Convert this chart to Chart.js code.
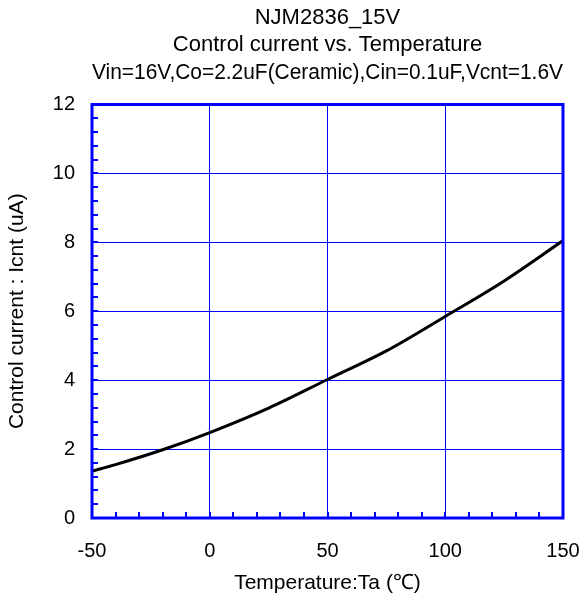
<!DOCTYPE html>
<html>
<head>
<meta charset="utf-8">
<script src="https://cdn.jsdelivr.net/npm/chart.js@4.4.1/dist/chart.umd.min.js"></script>
<style>
  html, body { margin: 0; padding: 0; background: #fff; }
  #wrap { width: 582px; height: 598px; }
</style>
</head>
<body>
<div id="wrap"><canvas id="ctrlChart" width="582" height="598"></canvas></div>
<script>
const titleLines = [
  'NJM2836_15V',
  'Control current vs. Temperature',
  'Vin=16V,Co=2.2uF(Ceramic),Cin=0.1uF,Vcnt=1.6V'
];
const xLabel = 'Temperature:Ta (\u2103)';
const yLabel = 'Control current : Icnt (uA)';

// temperature (C) and control current (uA)
const temps = [-50, -40, -20, 0, 25, 50, 75, 100, 125, 150];
const icnt = [1.36, 1.55, 1.98, 2.48, 3.19, 4.02, 4.85, 5.85, 6.88, 8.05];

const xMin = -50, xMax = 150, xStep = 50, xMinor = 10;
const yMin = 0, yMax = 12, yStep = 2, yMinor = 0.4;

const BLUE = 'rgb(0,0,255)';
const FONT = 'Arial, "Liberation Sans", sans-serif';

// frame + inward minor ticks, drawn from the scales
const framePlugin = {
  id: 'frame',
  afterDatasetsDraw(chart) {
    const { ctx, chartArea: a, scales } = chart;
    ctx.save();
    ctx.strokeStyle = BLUE;
    ctx.lineWidth = 2;
    for (let v = xMin + xMinor; v < xMax; v += xMinor) {
      const px = Math.round(scales.x.getPixelForValue(v));
      ctx.beginPath();
      ctx.moveTo(px, a.bottom);
      ctx.lineTo(px, a.bottom - 6);
      ctx.stroke();
    }
    for (let i = 1; i < Math.round((yMax - yMin) / yMinor); i++) {
      const py = Math.round(scales.y.getPixelForValue(yMin + i * yMinor));
      ctx.beginPath();
      ctx.moveTo(a.left, py);
      ctx.lineTo(a.left + 6, py);
      ctx.stroke();
    }
    ctx.lineWidth = 3;
    ctx.strokeRect(a.left, a.top, a.right - a.left, a.bottom - a.top);
    ctx.restore();
  }
};

new Chart(document.getElementById('ctrlChart'), {
  type: 'scatter',
  data: {
    datasets: [{
      data: temps.map((t, i) => ({ x: t, y: icnt[i] })),
      showLine: true,
      borderColor: '#000',
      borderWidth: 3,
      pointRadius: 0,
      cubicInterpolationMode: 'monotone'
    }]
  },
  options: {
    responsive: false,
    animation: false,
    layout: { padding: { left: 0, right: 19, top: 0, bottom: 0 } },
    plugins: {
      legend: { display: false },
      tooltip: { enabled: false },
      title: {
        display: true,
        fullSize: false,
        text: titleLines,
        color: '#000',
        font: { family: FONT, size: 22, weight: 'normal', lineHeight: 1.25 },
        padding: { top: 4, bottom: 18 }
      }
    },
    scales: {
      x: {
        type: 'linear',
        min: xMin, max: xMax,
        afterFit(s) { s.height = 80; s.paddingLeft = 0; s.paddingRight = 0; },
        grid: { color: BLUE, lineWidth: 1, drawTicks: false },
        border: { display: false },
        ticks: { stepSize: xStep, color: '#000', padding: 21, maxRotation: 0, font: { family: FONT, size: 20 } },
        title: { display: true, text: xLabel, color: '#000', padding: { top: 0, bottom: 2 }, font: { family: FONT, size: 21 } }
      },
      y: {
        min: yMin, max: yMax,
        afterFit(s) { s.width = 92; s.paddingTop = 0; s.paddingBottom = 0; },
        grid: { color: BLUE, lineWidth: 1, drawTicks: false },
        border: { display: false },
        ticks: { stepSize: yStep, color: '#000', padding: 17, font: { family: FONT, size: 20 } },
        title: { display: true, text: yLabel, color: '#000', padding: { top: 5, bottom: 0 }, font: { family: FONT, size: 21 } }
      }
    }
  },
  plugins: [framePlugin]
});
</script>
</body>
</html>
